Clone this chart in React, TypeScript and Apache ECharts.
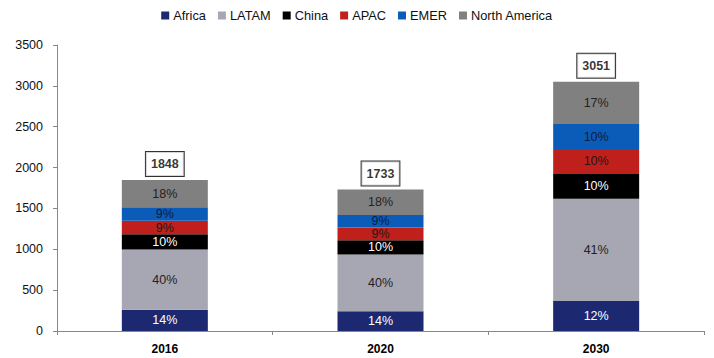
import React, { useEffect, useRef } from "react";
import * as echarts from "echarts";

// Categories and totals per year
const years = ["2016", "2020", "2030"];
const totals = [1848, 1733, 3051];

// Regional share (%) of each year's total
const regions = ["Africa", "LATAM", "China", "APAC", "EMER", "North America"];
const africaPct = [14, 14, 12];
const latamPct = [40, 40, 41];
const chinaPct = [10, 10, 10];
const apacPct = [9, 9, 10];
const emerPct = [9, 9, 10];
const northAmericaPct = [18, 18, 17];

const yTicks = { min: 0, max: 3500, interval: 500 };

const sharesByRegion = [africaPct, latamPct, chinaPct, apacPct, emerPct, northAmericaPct];
const colors = ["#1c2970", "#a7a7b3", "#000000", "#c0201b", "#0b5cb9", "#808080"];
const labelColors = ["#ffffff", "#222222", "#ffffff", "#1a1a1a", "#0d1b3d", "#222222"];

const FONT = "'Liberation Sans', Arial, sans-serif";

export default function App() {
  const ref = useRef<HTMLDivElement>(null);

  useEffect(() => {
    if (!ref.current) return;
    const chart = echarts.init(ref.current, null, { renderer: "svg" });

    const barSeries = regions.map((name, i) => ({
      name,
      type: "bar" as const,
      stack: "total",
      barWidth: 86,
      itemStyle: { color: colors[i] },
      data: sharesByRegion[i].map((p, j) => ({
        value: (totals[j] * p) / 100,
        pct: p,
      })),
      label: {
        show: true,
        position: "inside" as const,
        color: labelColors[i],
        fontFamily: FONT,
        fontSize: 12.5,
        formatter: (params: any) => `${params.data.pct}%`,
      },
    }));

    const totalSeries = {
      name: "total",
      type: "scatter" as const,
      symbolSize: 0,
      silent: true,
      data: totals,
      label: {
        show: true,
        position: "top" as const,
        distance: 4,
        color: "#000",
        fontFamily: FONT,
        fontSize: 12.5,
        fontWeight: "bold" as const,
        backgroundColor: "#fff",
        borderColor: "#000",
        borderWidth: 1,
        padding: [6, 5, 5, 5],
        formatter: (p: any) => String(p.value),
      },
    };

    chart.setOption({
      animation: false,
      textStyle: { fontFamily: FONT },
      legend: {
        data: regions,
        top: 4,
        left: "center",
        itemWidth: 8,
        itemHeight: 8,
        itemGap: 12,
        icon: "rect",
        textStyle: { fontFamily: FONT, fontSize: 12.8, color: "#111", padding: [0, 0, 0, -1] },
      },
      grid: { left: 57, right: 10, top: 45, bottom: 27, containLabel: false },
      xAxis: {
        type: "category",
        data: years,
        axisLine: { lineStyle: { color: "#888", width: 1 } },
        axisTick: { show: true, alignWithLabel: false, length: 4, lineStyle: { color: "#888" } },
        axisLabel: { color: "#000", fontWeight: "bold", fontSize: 12, fontFamily: FONT, margin: 12 },
      },
      yAxis: {
        type: "value",
        min: yTicks.min,
        max: yTicks.max,
        interval: yTicks.interval,
        splitLine: { show: false },
        axisLine: { show: true, lineStyle: { color: "#888", width: 1 } },
        axisTick: { show: true, length: 4, lineStyle: { color: "#888" } },
        axisLabel: {
          color: "#111",
          fontSize: 12.5,
          fontFamily: FONT,
          margin: 14,
          formatter: (v: number) => String(v),
        },
      },
      series: [...barSeries, totalSeries],
    });

    return () => chart.dispose();
  }, []);

  return <div ref={ref} style={{ width: 714, height: 358, position: "absolute", left: 0, top: 0 }} />;
}
